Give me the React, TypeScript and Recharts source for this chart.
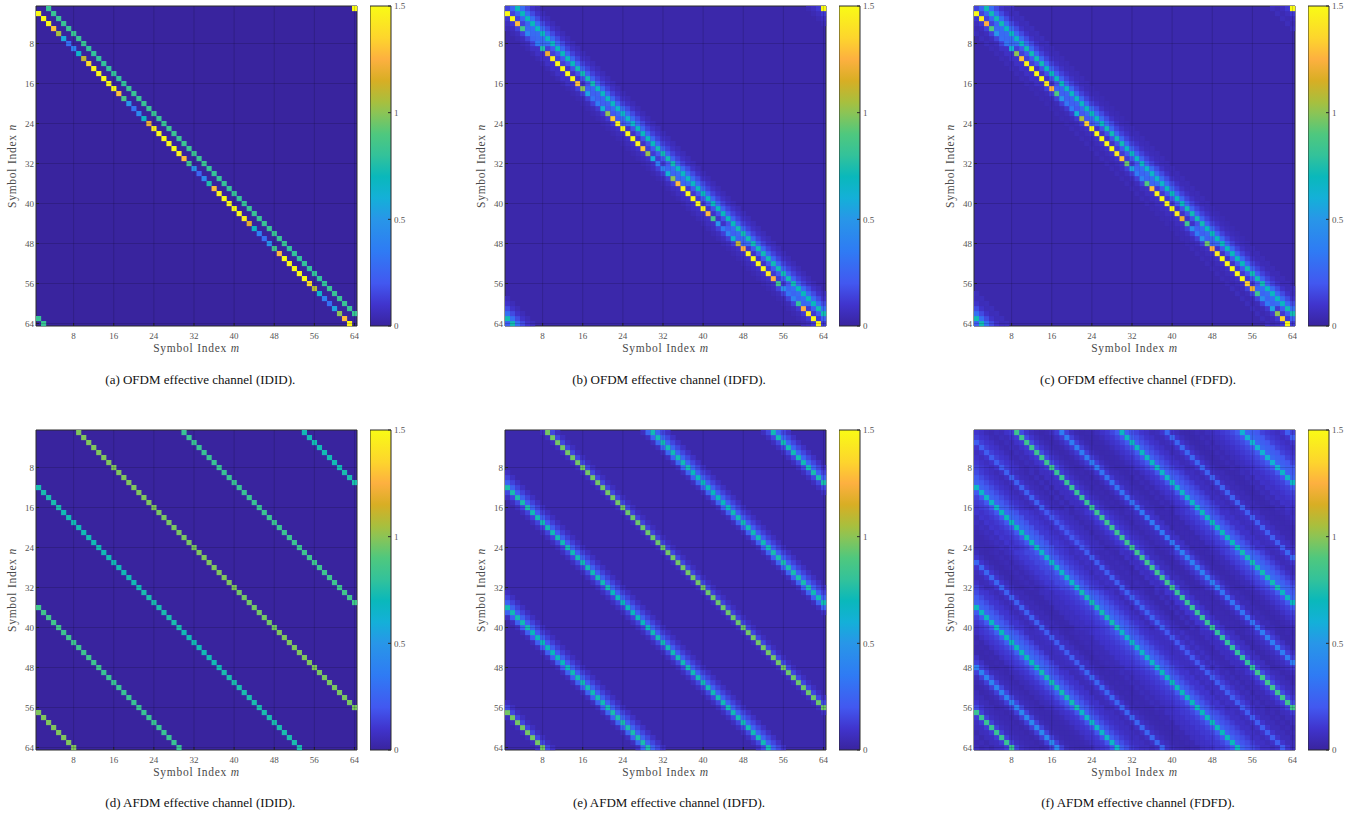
import React from "react";
import {
  Bar,
  BarChart,
  CartesianGrid,
  Label,
  ReferenceLine,
  Scatter,
  ScatterChart,
  XAxis,
  YAxis,
} from "recharts";

const FONT = "'Liberation Serif', serif";
const PLOT_W = 321;
const PLOT_H = 320;
const CELL_W = PLOT_W / 64;
const CELL_H = PLOT_H / 64;

const indexTicks = [8, 16, 24, 32, 40, 48, 56, 64];
const colorbarTicks = [0, 0.5, 1, 1.5];

// colour bar
const colorStops: [number, number[]][] = [
  [0, [57, 36, 158]],
  [0.1, [64, 52, 205]],
  [0.2, [66, 88, 240]],
  [0.35, [47, 123, 244]],
  [0.5, [40, 150, 232]],
  [0.6, [20, 176, 216]],
  [0.7, [10, 184, 187]],
  [0.8, [51, 194, 154]],
  [0.9, [79, 200, 126]],
  [1.0, [140, 196, 85]],
  [1.05, [168, 191, 62]],
  [1.15, [216, 174, 36]],
  [1.25, [253, 176, 64]],
  [1.35, [253, 213, 45]],
  [1.5, [249, 251, 21]],
];

// values along a diagonal m - n = offset, one entry per row or per equal block of rows
const ofdmIdidMain = [
  1.5, 1.5, 1.5, 1.5, 1.3, 1.05, 0.58, 0.3, 0.38, 0.65, 1.1, 1.38, 1.48, 1.5, 1.5, 1.5,
  1.5, 1.3, 0.88, 0.5, 0.32, 0.42, 0.68, 1.2, 1.45, 1.5, 1.5, 1.5, 1.5, 1.48, 1.28, 0.85,
  0.48, 0.25, 0.42, 0.75, 1.28, 1.48, 1.5, 1.5, 1.5, 1.5, 1.45, 1.18, 0.68, 0.38, 0.3, 0.48,
  0.85, 1.28, 1.5, 1.5, 1.5, 1.5, 1.5, 1.38, 1.08, 0.65, 0.38, 0.3, 0.55, 1.0, 1.28, 1.48,
];
const ofdmIdidSide = [0.82, 0.8, 0.82, 0.83, 0.81, 0.82, 0.8, 0.82];

const ofdmIdfdMain = [
  1.5, 1.5, 1.5, 1.28, 0.85, 0.42, 0.25, 0.35, 0.75, 1.2, 1.45, 1.5, 1.5, 1.5, 1.5, 1.3,
  1.0, 0.55, 0.32, 0.35, 0.62, 1.0, 1.33, 1.48, 1.5, 1.5, 1.5, 1.48, 1.32, 1.02, 0.6, 0.38,
  0.38, 0.62, 1.0, 1.28, 1.48, 1.5, 1.5, 1.5, 1.48, 1.28, 0.85, 0.5, 0.35, 0.4, 0.65, 1.1,
  1.25, 1.48, 1.5, 1.5, 1.5, 1.45, 1.25, 0.85, 0.45, 0.32, 0.4, 0.8, 1.25, 1.45, 1.5, 1.48,
];
const ofdmIdfdSide = [0.7, 0.68, 0.7, 0.72, 0.68, 0.66, 0.7, 0.72, 0.68, 0.7, 0.7, 0.72, 0.72, 0.72, 0.7, 0.72];
const ofdmIdfdPlus0 = [0.14, 0.28, 0.13, 0.09, 0.24, 0.2, 0.09, 0.12, 0.26, 0.11, 0.09, 0.24, 0.09, 0.11, 0.26, 0.11];
const ofdmIdfdPlus1 = [0.26, 0.3, 0.2, 0.18, 0.26, 0.28, 0.18, 0.2, 0.3, 0.2, 0.18, 0.28, 0.2, 0.2, 0.3, 0.22];
const ofdmIdfdPlus3 = [0.3, 0.28, 0.26, 0.24, 0.26, 0.28, 0.26, 0.24, 0.28, 0.26, 0.24, 0.26, 0.26, 0.24, 0.28, 0.3];
const ofdmIdfdPlus4 = [0.16, 0.16, 0.14, 0.14, 0.14, 0.16, 0.14, 0.14, 0.16, 0.14, 0.14, 0.14, 0.14, 0.14, 0.16, 0.16];
const ofdmIdfdPlus5 = [0.09, 0.09, 0.08, 0.085, 0.08, 0.085, 0.085, 0.08, 0.085, 0.08, 0.085, 0.08, 0.08, 0.085, 0.09, 0.09];
const ofdmIdfdPlus6 = [0.055, 0.055, 0.05, 0.055, 0.05, 0.055, 0.05, 0.055];
const ofdmIdfdMinus2 = [0.11, 0.14, 0.09, 0.08, 0.13, 0.11, 0.08, 0.09, 0.13, 0.08, 0.08, 0.13, 0.08, 0.08, 0.14, 0.11];
const ofdmIdfdMinus3 = [0.065, 0.08, 0.055, 0.055, 0.065, 0.065, 0.055, 0.055];
const ofdmIdfdMinus4 = [0.045, 0.045, 0.04, 0.04, 0.04, 0.045, 0.04, 0.04];

const ofdmFdfdMain = [
  1.5, 1.5, 1.45, 1.25, 0.9, 0.5, 0.3, 0.32, 0.62, 1.0, 1.3, 1.48, 1.5, 1.5, 1.5, 1.45,
  1.25, 0.9, 0.5, 0.33, 0.35, 0.62, 1.05, 1.35, 1.5, 1.5, 1.5, 1.5, 1.5, 1.45, 1.3, 0.95,
  0.55, 0.35, 0.4, 0.9, 1.3, 1.48, 1.5, 1.5, 1.5, 1.45, 1.2, 0.85, 0.45, 0.35, 0.5, 0.95,
  1.25, 1.45, 1.5, 1.5, 1.5, 1.5, 1.5, 1.35, 1.2, 0.85, 0.45, 0.35, 0.55, 1.0, 1.35, 1.5,
];
const ofdmFdfdSide = [0.72, 0.68, 0.72, 0.7, 0.68, 0.7, 0.72, 0.68, 0.66, 0.7, 0.72, 0.7, 0.7, 0.72, 0.68, 0.72];
const ofdmFdfdFar = [0.06, 0.05, 0.045, 0.05, 0.05, 0.045, 0.05, 0.06];

const afdmIdidPlus8 = [0.98, 0.98, 0.97, 0.98, 0.96, 0.98, 0.97, 0.98];
const afdmIdidPlus29 = [0.82, 0.82, 0.83, 0.84, 0.85, 0.84, 0.82, 0.82];
const afdmIdidPlus53 = [0.72, 0.74, 0.72, 0.72, 0.74, 0.72, 0.74, 0.74];

const afdmIdfdPlus8 = [0.96, 0.96, 0.95, 0.96, 0.95, 0.96, 0.95, 0.96];
const afdmIdfdPlus29 = [0.72, 0.7, 0.72, 0.74, 0.72, 0.7, 0.72, 0.74];
const afdmIdfdPlus53 = [0.72, 0.74, 0.72, 0.72, 0.7, 0.72, 0.72, 0.72];
const afdmIdfdNear = [0.15, 0.15, 0.14, 0.15, 0.14, 0.15, 0.15, 0.15];
const afdmIdfdMid = [0.07, 0.07, 0.065, 0.07, 0.07, 0.065, 0.07, 0.07];
const afdmIdfdWideNear = [0.26, 0.24, 0.22, 0.24, 0.24, 0.22, 0.24, 0.25];
const afdmIdfdWideMid = [0.15, 0.14, 0.13, 0.14, 0.14, 0.13, 0.14, 0.15];
const afdmIdfdWideFaint = [0.08, 0.075, 0.07, 0.075, 0.075, 0.07, 0.075, 0.08];

const afdmFdfdPlus8 = [0.84, 0.82, 0.84, 0.85, 0.82, 0.8, 0.85, 0.82];
const afdmFdfdPlus17 = [0.36, 0.32, 0.34, 0.38, 0.32, 0.36, 0.4, 0.42];
const afdmFdfdPlus29 = [0.68, 0.66, 0.7, 0.72, 0.68, 0.7, 0.72, 0.66];
const afdmFdfdPlus38 = [0.26, 0.24, 0.22, 0.26, 0.24, 0.22, 0.26, 0.26];
const afdmFdfdPlus53 = [0.62, 0.66, 0.7, 0.66, 0.72, 0.66, 0.7, 0.7];
const afdmFdfdPlus62 = [0.22, 0.24, 0.2, 0.22, 0.24, 0.2, 0.22, 0.22];
// every other diagonal of panel (f): offset, then eight blocks of rows
const afdmFdfdField: number[][] = [
  [0, 0.1, 0.06, 0.09, 0.05, 0.08, 0.06, 0.09, 0.06],
  [1, 0.08, 0.05, 0.07, 0.045, 0.06, 0.08, 0.05, 0.06],
  [2, 0.05, 0.035, 0.06, 0.05, 0.035, 0.05, 0.06, 0.04],
  [3, 0.04, 0.06, 0.035, 0.04, 0.03, 0.04, 0.035, 0.05],
  [4, 0.06, 0.035, 0.05, 0.035, 0.06, 0.04, 0.05, 0.035],
  [5, 0.05, 0.07, 0.06, 0.08, 0.04, 0.07, 0.05, 0.06],
  [6, 0.09, 0.07, 0.1, 0.07, 0.1, 0.07, 0.09, 0.07],
  [7, 0.12, 0.1, 0.14, 0.11, 0.12, 0.1, 0.14, 0.12],
  [9, 0.16, 0.12, 0.14, 0.16, 0.12, 0.14, 0.16, 0.13],
  [10, 0.1, 0.08, 0.1, 0.07, 0.09, 0.08, 0.1, 0.07],
  [11, 0.06, 0.05, 0.07, 0.06, 0.04, 0.07, 0.06, 0.05],
  [12, 0.04, 0.035, 0.05, 0.035, 0.04, 0.03, 0.05, 0.04],
  [13, 0.03, 0.04, 0.035, 0.03, 0.04, 0.035, 0.03, 0.04],
  [14, 0.04, 0.03, 0.05, 0.04, 0.035, 0.05, 0.04, 0.03],
  [15, 0.07, 0.05, 0.06, 0.08, 0.05, 0.07, 0.06, 0.05],
  [16, 0.12, 0.1, 0.09, 0.13, 0.1, 0.11, 0.13, 0.13],
  [18, 0.13, 0.11, 0.1, 0.14, 0.11, 0.13, 0.15, 0.14],
  [19, 0.07, 0.06, 0.08, 0.07, 0.05, 0.08, 0.07, 0.06],
  [20, 0.04, 0.05, 0.035, 0.04, 0.05, 0.035, 0.05, 0.04],
  [21, 0.03, 0.035, 0.04, 0.03, 0.035, 0.03, 0.04, 0.035],
  [22, 0.035, 0.03, 0.04, 0.035, 0.03, 0.04, 0.03, 0.035],
  [23, 0.04, 0.05, 0.035, 0.05, 0.04, 0.035, 0.05, 0.04],
  [24, 0.06, 0.04, 0.07, 0.06, 0.05, 0.07, 0.06, 0.05],
  [25, 0.09, 0.07, 0.09, 0.1, 0.08, 0.1, 0.09, 0.08],
  [26, 0.11, 0.1, 0.12, 0.13, 0.11, 0.12, 0.11, 0.1],
  [27, 0.15, 0.12, 0.14, 0.16, 0.14, 0.15, 0.16, 0.12],
  [28, 0.21, 0.19, 0.21, 0.24, 0.21, 0.24, 0.24, 0.19],
  [30, 0.24, 0.25, 0.24, 0.28, 0.25, 0.28, 0.25, 0.24],
  [31, 0.18, 0.2, 0.19, 0.24, 0.21, 0.24, 0.19, 0.17],
  [32, 0.14, 0.16, 0.14, 0.18, 0.16, 0.18, 0.14, 0.12],
  [33, 0.1, 0.12, 0.09, 0.13, 0.11, 0.13, 0.1, 0.09],
  [34, 0.08, 0.07, 0.09, 0.08, 0.1, 0.07, 0.09, 0.07],
  [35, 0.05, 0.07, 0.06, 0.05, 0.07, 0.06, 0.05, 0.07],
  [36, 0.06, 0.05, 0.07, 0.06, 0.05, 0.07, 0.06, 0.05],
  [37, 0.1, 0.08, 0.09, 0.1, 0.08, 0.09, 0.1, 0.08],
  [39, 0.1, 0.08, 0.09, 0.1, 0.09, 0.08, 0.1, 0.09],
  [40, 0.06, 0.05, 0.07, 0.06, 0.05, 0.07, 0.05, 0.06],
  [41, 0.035, 0.05, 0.04, 0.035, 0.05, 0.04, 0.035, 0.04],
  [42, 0.03, 0.035, 0.04, 0.03, 0.035, 0.03, 0.04, 0.035],
  [43, 0.035, 0.03, 0.035, 0.04, 0.03, 0.04, 0.035, 0.03],
  [44, 0.05, 0.035, 0.04, 0.05, 0.035, 0.05, 0.04, 0.04],
  [45, 0.04, 0.06, 0.05, 0.04, 0.06, 0.05, 0.06, 0.04],
  [46, 0.06, 0.05, 0.07, 0.06, 0.07, 0.06, 0.05, 0.07],
  [47, 0.07, 0.09, 0.06, 0.08, 0.07, 0.09, 0.07, 0.08],
  [48, 0.09, 0.08, 0.1, 0.11, 0.09, 0.1, 0.08, 0.09],
  [49, 0.11, 0.1, 0.09, 0.12, 0.1, 0.11, 0.1, 0.11],
  [50, 0.13, 0.12, 0.11, 0.15, 0.12, 0.13, 0.12, 0.12],
  [51, 0.16, 0.14, 0.14, 0.16, 0.14, 0.16, 0.14, 0.15],
  [52, 0.21, 0.2, 0.2, 0.21, 0.19, 0.21, 0.2, 0.21],
  [54, 0.27, 0.25, 0.27, 0.25, 0.29, 0.27, 0.25, 0.25],
  [55, 0.23, 0.21, 0.23, 0.19, 0.23, 0.21, 0.19, 0.19],
  [56, 0.2, 0.16, 0.18, 0.14, 0.18, 0.16, 0.14, 0.16],
  [57, 0.14, 0.12, 0.12, 0.11, 0.14, 0.11, 0.1, 0.12],
  [58, 0.11, 0.09, 0.11, 0.09, 0.1, 0.09, 0.1, 0.08],
  [59, 0.09, 0.07, 0.09, 0.06, 0.08, 0.07, 0.06, 0.08],
  [60, 0.07, 0.05, 0.07, 0.08, 0.05, 0.07, 0.08, 0.06],
  [61, 0.1, 0.08, 0.1, 0.08, 0.1, 0.09, 0.08, 0.09],
  [63, 0.13, 0.1, 0.13, 0.09, 0.12, 0.1, 0.13, 0.1],
];

type Band = [number, number[]];

const panels: { tag: string; caption: string; left: number; top: number; captionTop: number; base: number; bands: Band[] }[] = [
  {
    tag: "a",
    caption: "(a) OFDM effective channel (IDID).",
    left: 36.3,
    top: 5.7,
    captionTop: 372,
    base: 0,
    bands: [
      [-1, ofdmIdidMain],
      [2, ofdmIdidSide],
    ],
  },
  {
    tag: "b",
    caption: "(b) OFDM effective channel (IDFD).",
    left: 505,
    top: 5.7,
    captionTop: 372,
    base: 0.025,
    bands: [
      [-4, ofdmIdfdMinus4],
      [-3, ofdmIdfdMinus3],
      [-2, ofdmIdfdMinus2],
      [-1, ofdmIdfdMain],
      [0, ofdmIdfdPlus0],
      [1, ofdmIdfdPlus1],
      [2, ofdmIdfdSide],
      [3, ofdmIdfdPlus3],
      [4, ofdmIdfdPlus4],
      [5, ofdmIdfdPlus5],
      [6, ofdmIdfdPlus6],
    ],
  },
  {
    tag: "c",
    caption: "(c) OFDM effective channel (FDFD).",
    left: 974,
    top: 5.7,
    captionTop: 372,
    base: 0.03,
    bands: [
      [-5, ofdmFdfdFar],
      [-4, ofdmIdfdMinus4],
      [-3, ofdmIdfdMinus3],
      [-2, ofdmIdfdMinus2],
      [-1, ofdmFdfdMain],
      [0, ofdmIdfdPlus0],
      [1, ofdmIdfdPlus1],
      [2, ofdmFdfdSide],
      [3, ofdmIdfdPlus3],
      [4, ofdmIdfdPlus4],
      [5, ofdmIdfdPlus5],
      [6, ofdmIdfdPlus6],
      [7, ofdmFdfdFar],
    ],
  },
  {
    tag: "d",
    caption: "(d) AFDM effective channel (IDID).",
    left: 36.3,
    top: 430,
    captionTop: 795,
    base: 0,
    bands: [
      [8, afdmIdidPlus8],
      [29, afdmIdidPlus29],
      [53, afdmIdidPlus53],
    ],
  },
  {
    tag: "e",
    caption: "(e) AFDM effective channel (IDFD).",
    left: 505,
    top: 430,
    captionTop: 795,
    base: 0.03,
    bands: [
      [7, afdmIdfdMid],
      [8, afdmIdfdPlus8],
      [9, afdmIdfdNear],
      [10, afdmIdfdMid],
      [27, afdmIdfdMid],
      [28, afdmIdfdWideNear],
      [29, afdmIdfdPlus29],
      [30, afdmIdfdWideNear],
      [31, afdmIdfdWideMid],
      [32, afdmIdfdWideFaint],
      [51, afdmIdfdMid],
      [52, afdmIdfdNear],
      [53, afdmIdfdPlus53],
      [54, afdmIdfdWideNear],
      [55, afdmIdfdWideMid],
      [56, afdmIdfdWideFaint],
    ],
  },
  {
    tag: "f",
    caption: "(f) AFDM effective channel (FDFD).",
    left: 974,
    top: 430,
    captionTop: 795,
    base: 0.04,
    bands: [
      ...afdmFdfdField.map((row): Band => [row[0], row.slice(1)]),
      [8, afdmFdfdPlus8],
      [17, afdmFdfdPlus17],
      [29, afdmFdfdPlus29],
      [38, afdmFdfdPlus38],
      [53, afdmFdfdPlus53],
      [62, afdmFdfdPlus62],
    ],
  },
];

function valueColor(v: number) {
  for (let i = 1; i < colorStops.length; i++) {
    const [hi, c1] = colorStops[i];
    if (v <= hi) {
      const [lo, c0] = colorStops[i - 1];
      const t = (v - lo) / (hi - lo);
      const c = c0.map((ch, k) => Math.round(ch + (c1[k] - ch) * t));
      return `rgb(${c[0]},${c[1]},${c[2]})`;
    }
  }
  return "rgb(249,251,21)";
}

function cellsFrom(bands: Band[]) {
  const cells: { m: number; n: number; v: number }[] = [];
  for (const [offset, values] of bands) {
    const rowsPerValue = 64 / values.length;
    for (let n = 1; n <= 64; n++) {
      const m = ((n + offset - 1 + 64) % 64) + 1;
      cells.push({ m, n, v: values[Math.floor((n - 1) / rowsPerValue)] });
    }
  }
  return cells;
}

function CellMark(props: any) {
  const v = props.payload?.v ?? props.v;
  return (
    <rect
      x={props.cx - CELL_W / 2}
      y={props.cy - CELL_H / 2}
      width={CELL_W + 0.15}
      height={CELL_H + 0.15}
      fill={valueColor(v)}
    />
  );
}

function SymbolLabel({ viewBox, letter, vertical }: any) {
  const vb = viewBox ?? { x: 0, y: 0, width: 0, height: 0 };
  const style = { fontFamily: FONT, fontSize: 11.5, fill: "#4a4a4a", letterSpacing: 0.75 };
  if (vertical) {
    const cy = vb.y + vb.height / 2;
    return (
      <text x={7} y={cy} transform={`rotate(-90 7 ${cy})`} dominantBaseline="middle" textAnchor="middle" {...style}>
        Symbol Index <tspan fontStyle="italic">{letter}</tspan>
      </text>
    );
  }
  return (
    <text x={vb.x + vb.width / 2} y={vb.y + 26} textAnchor="middle" {...style}>
      Symbol Index <tspan fontStyle="italic">{letter}</tspan>
    </text>
  );
}

const tickStyle = { fontSize: 9, fontFamily: FONT, fill: "#555" };

function Heatmap({ panel }: { panel: (typeof panels)[number] }) {
  const cells = cellsFrom(panel.bands);
  return (
    <ScatterChart
      width={30 + PLOT_W + 2}
      height={PLOT_H + 36}
      margin={{ top: 2, right: 2, bottom: 0, left: 0 }}
      style={{ position: "absolute", left: panel.left - 30, top: panel.top - 2 }}
    >
      <CartesianGrid fill={valueColor(panel.base)} stroke="none" />
      <XAxis
        dataKey="m"
        type="number"
        domain={[0.5, 64.5]}
        ticks={indexTicks}
        interval={0}
        height={34}
        tickSize={-3}
        tickMargin={10}
        tick={tickStyle}
        stroke="#2a2a2a"
      >
        <Label content={<SymbolLabel letter="m" />} />
      </XAxis>
      <YAxis
        dataKey="n"
        type="number"
        reversed
        domain={[0.5, 64.5]}
        ticks={indexTicks}
        interval={0}
        width={30}
        tickSize={-3}
        tickMargin={5}
        tick={tickStyle}
        stroke="#2a2a2a"
      >
        <Label content={<SymbolLabel letter="n" vertical />} />
      </YAxis>
      <XAxis xAxisId="top" orientation="top" mirror type="number" domain={[0.5, 64.5]} ticks={indexTicks} interval={0} tick={false} tickSize={3} stroke="#2a2a2a" />
      <YAxis yAxisId="right" orientation="right" mirror type="number" reversed domain={[0.5, 64.5]} ticks={indexTicks} interval={0} tick={false} tickSize={3} stroke="#2a2a2a" />
      <Scatter data={cells} isAnimationActive={false} shape={CellMark} />
      {indexTicks.map((t) => (
        <ReferenceLine key={`x${t}`} x={t} stroke="#000" strokeOpacity={0.22} strokeWidth={0.7} zIndex={700} />
      ))}
      {indexTicks.map((t) => (
        <ReferenceLine key={`y${t}`} y={t} stroke="#000" strokeOpacity={0.22} strokeWidth={0.7} zIndex={700} />
      ))}
    </ScatterChart>
  );
}

const colorbarData = [{ name: "scale", level: 1.5 }];

function Colorbar({ panel }: { panel: (typeof panels)[number] }) {
  const gradientId = `bar-${panel.tag}`;
  return (
    <BarChart
      width={21 + 24}
      height={PLOT_H + 16}
      data={colorbarData}
      barCategoryGap={0}
      margin={{ top: 8, right: 0, bottom: 8, left: 0 }}
      style={{ position: "absolute", left: panel.left + PLOT_W + 12.5, top: panel.top - 8 }}
    >
      <defs>
        <linearGradient id={gradientId} x1="0" y1="1" x2="0" y2="0">
          {colorStops.map(([v]) => (
            <stop key={v} offset={`${(v / 1.5) * 100}%`} stopColor={valueColor(v)} />
          ))}
        </linearGradient>
      </defs>
      <XAxis dataKey="name" hide />
      <YAxis
        orientation="right"
        type="number"
        domain={[0, 1.5]}
        ticks={colorbarTicks}
        interval={0}
        width={24}
        tickSize={-3}
        tickMargin={6}
        tick={tickStyle}
        stroke="#2a2a2a"
        axisLine={false}
      />
      <Bar dataKey="level" fill={`url(#${gradientId})`} stroke="#2a2a2a" strokeWidth={1} isAnimationActive={false} />
    </BarChart>
  );
}

export default function App() {
  return (
    <div style={{ position: "absolute", left: 0, top: 0, width: 1365, height: 824, background: "#fff", overflow: "hidden" }}>
      {panels.map((panel) => (
        <React.Fragment key={panel.tag}>
          <Heatmap panel={panel} />
          <Colorbar panel={panel} />
          <div
            style={{
              position: "absolute",
              left: panel.left - 30,
              width: 388,
              top: panel.captionTop,
              textAlign: "center",
              fontFamily: FONT,
              fontSize: 13,
              color: "#111",
              whiteSpace: "nowrap",
            }}
          >
            {panel.caption}
          </div>
        </React.Fragment>
      ))}
    </div>
  );
}
